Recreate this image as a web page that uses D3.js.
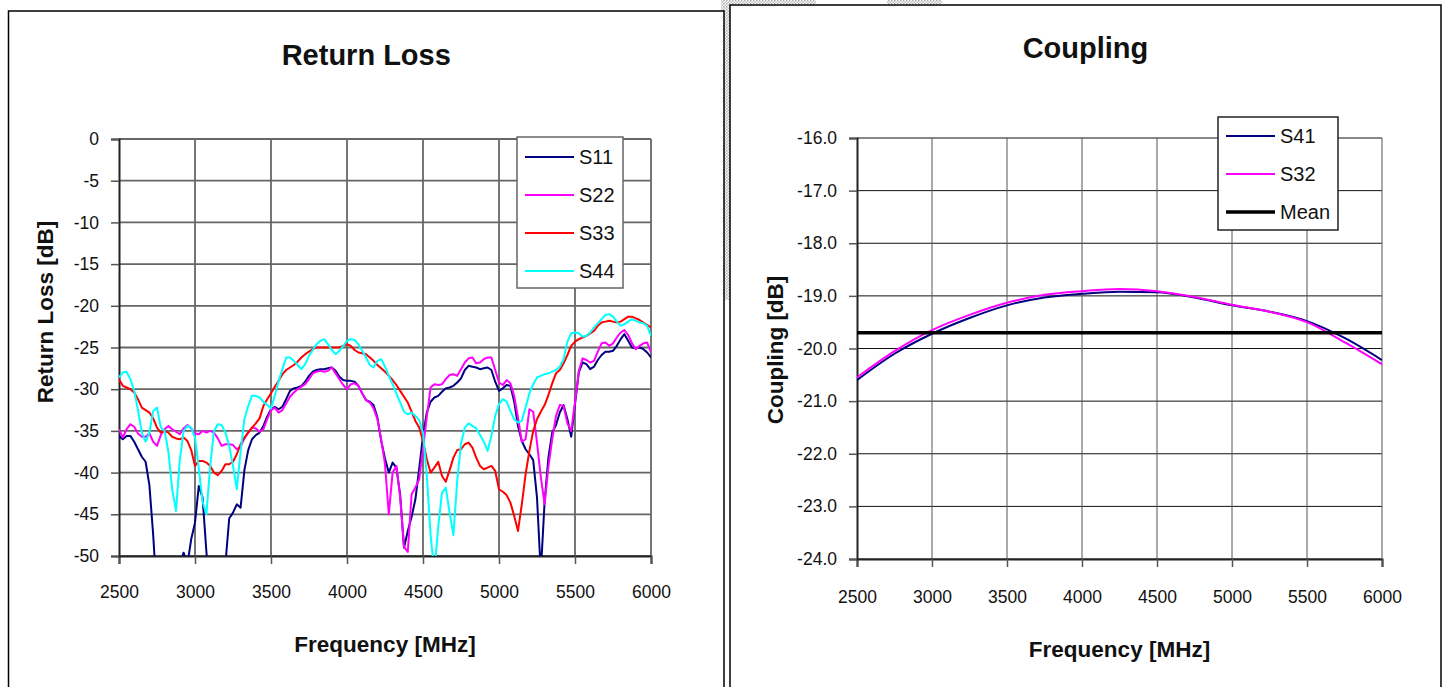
<!DOCTYPE html>
<html>
<head>
<meta charset="utf-8">
<script src="https://cdn.jsdelivr.net/npm/d3@7"></script>
<style>
  body { margin: 0; background: #fff; }
  text { font-family: "Liberation Sans", Arial, sans-serif; fill: #111; }
</style>
</head>
<body>
<div id="root"></div>
<script>
const width = 1446
const height = 687

// ---- Return loss (every 25 MHz from 2500 to 6000) ----
const rlFreq = d3.range(2500, 6001, 25)
const s11 = [-35.6,-36.0,-35.6,-35.6,-36.3,-37.2,-38.1,-38.7,-41.5,-47.5,-55,-55,-55,-55,-55,-55,-51,-49.6,-51,-48,
  -46.0,-41.6,-43.0,-49.5,-55,-55,-55,-55,-51,-45.5,-44.8,-43.8,-44.2,-39.7,-37.3,-36.0,-35.5,-35.2,-34.4,-33.3,
  -32.4,-32.1,-32.4,-32.1,-31.2,-30.2,-29.9,-29.8,-29.6,-29.1,-28.4,-27.9,-27.7,-27.6,-27.6,-27.5,-27.4,-27.8,-28.5,-28.9,
  -29.0,-29.0,-29.1,-29.6,-30.5,-31.3,-31.5,-31.9,-33.4,-36.2,-38.3,-40.0,-38.8,-39.4,-42.7,-49.0,-47.0,-45.3,-43.2,-39.5,
  -35.6,-32.8,-31.5,-31.0,-30.8,-30.3,-29.9,-29.8,-29.6,-29.2,-28.7,-27.7,-27.2,-27.3,-27.4,-27.6,-27.5,-27.4,-27.7,-29.1,
  -30.2,-29.9,-29.5,-29.6,-31.5,-34.4,-36.2,-37.2,-37.8,-38.5,-43.0,-52,-43.5,-38.2,-35.2,-34.3,-32.8,-31.9,-33.6,-35.7,
  -31.8,-28.0,-26.8,-27.0,-27.6,-27.3,-26.5,-25.9,-25.5,-25.5,-25.4,-24.8,-24.0,-23.4,-24.2,-25.0,-25.1,-25.0,-25.2,-25.6,
  -26.2]
const s22 = [-34.8,-35.8,-34.8,-34.2,-34.5,-35.3,-35.7,-35.7,-35.3,-36.3,-36.8,-35.5,-34.8,-34.4,-34.8,-35.1,-35.4,-34.7,-34.3,-34.7,
  -35.3,-35.4,-35.0,-35.2,-35.0,-35.2,-35.9,-36.8,-36.6,-36.6,-36.7,-37.2,-36.9,-35.9,-35.2,-34.6,-34.7,-35.1,-34.8,-33.6,
  -32.5,-32.2,-32.8,-32.5,-31.7,-30.9,-30.4,-30.0,-29.7,-29.4,-28.8,-28.1,-27.9,-27.8,-27.9,-27.8,-27.4,-28.1,-28.8,-29.5,
  -30.0,-29.4,-29.3,-29.6,-30.5,-31.3,-31.6,-32.3,-33.6,-36.0,-39.0,-45.0,-40.0,-39.2,-43.0,-48.9,-49.5,-42.6,-41.8,-40.8,
  -37.2,-33.3,-29.8,-29.4,-29.5,-29.4,-28.8,-28.3,-28.2,-28.4,-27.6,-26.8,-26.3,-26.2,-26.9,-26.8,-26.4,-26.2,-26.2,-27.7,
  -29.2,-29.5,-28.9,-29.3,-30.8,-33.4,-36.3,-36.0,-32.4,-32.7,-36.4,-40.5,-43.8,-39.3,-36.0,-33.2,-31.9,-32.0,-34.1,-35.0,
  -31.6,-27.8,-26.3,-26.5,-26.8,-26.6,-25.5,-24.5,-24.4,-24.8,-24.5,-23.8,-23.2,-22.9,-23.5,-24.5,-25.2,-24.8,-24.5,-24.4,
  -25.6]
const s33 = [-28.8,-29.6,-29.8,-30.0,-30.4,-31.2,-32.2,-32.5,-32.8,-33.5,-34.6,-35.2,-35.0,-35.2,-35.7,-35.9,-36.0,-35.8,-36.2,-37.3,
  -39.2,-38.6,-38.6,-38.8,-39.2,-40.0,-40.3,-39.8,-39.0,-39.0,-38.7,-37.8,-36.6,-35.8,-35.2,-34.6,-34.1,-33.5,-32.0,-31.2,
  -30.5,-29.7,-29.0,-28.2,-27.7,-27.4,-27.1,-26.7,-26.2,-25.8,-25.5,-25.2,-25.0,-25.0,-25.0,-25.0,-25.0,-25.0,-25.0,-24.8,
  -24.6,-24.8,-25.3,-25.6,-25.7,-25.8,-26.2,-26.6,-27.1,-27.5,-27.9,-28.4,-28.9,-29.5,-30.2,-30.9,-31.6,-32.7,-33.8,-34.6,
  -36.2,-38.4,-40.0,-39.4,-38.7,-40.4,-41.1,-39.7,-38.2,-37.3,-37.2,-36.6,-36.4,-37.0,-38.2,-39.2,-39.6,-39.4,-39.2,-39.8,
  -42.0,-42.3,-42.7,-43.6,-45.2,-47.0,-43.8,-40.2,-37.4,-35.0,-33.6,-32.7,-31.9,-30.7,-29.3,-28.1,-27.7,-26.9,-25.9,-24.8,
  -24.3,-24.0,-23.8,-23.6,-23.3,-23.0,-22.4,-22.0,-21.9,-21.8,-21.9,-22.0,-21.9,-21.6,-21.3,-21.3,-21.5,-21.7,-22.0,-22.3,
  -22.6]
const s44 = [-28.6,-28.0,-27.9,-28.8,-30.2,-32.5,-35.2,-36.3,-35.2,-32.6,-32.2,-34.6,-35.0,-37.5,-42.0,-44.6,-38.5,-35.0,-34.4,-34.6,
  -35.8,-39.5,-43.5,-45.0,-39.2,-35.0,-34.2,-34.3,-35.2,-36.8,-39.2,-42.0,-37.5,-33.6,-32.0,-30.8,-30.8,-31.0,-31.5,-31.9,
  -32.3,-30.8,-29.0,-27.6,-26.2,-26.2,-26.6,-27.1,-27.6,-27.0,-26.0,-25.3,-24.6,-24.2,-24.0,-24.6,-25.3,-25.8,-25.4,-24.8,
  -24.2,-24.0,-24.1,-24.6,-25.4,-26.2,-27.1,-27.4,-26.6,-26.4,-27.3,-28.4,-29.4,-30.5,-31.6,-32.7,-33.0,-32.8,-33.2,-33.7,
  -35.2,-40.3,-47.5,-52,-46.5,-42.4,-41.8,-44.8,-47.5,-41.0,-36.5,-34.6,-34.1,-34.4,-34.7,-35.5,-36.3,-37.4,-35.6,-33.2,
  -31.8,-31.2,-31.5,-32.6,-33.6,-34.0,-33.8,-32.2,-30.5,-29.4,-28.6,-28.4,-28.2,-28.1,-27.9,-27.7,-27.3,-26.4,-24.3,-23.3,
  -23.2,-23.3,-23.7,-23.6,-23.2,-22.6,-22.1,-21.6,-21.1,-21.0,-21.3,-21.9,-22.4,-22.2,-21.9,-21.6,-21.8,-22.0,-22.1,-22.4,
  -23.6]
const rlNames = ['S11', 'S22', 'S33', 'S44']
const rlColors = ['#000080', '#ff00ff', '#ff0000', '#00ffff']
const rlTicks = [0, -5, -10, -15, -20, -25, -30, -35, -40, -45, -50]

// ---- Coupling (every 250 MHz) ----
const cpFreq = [2500, 2750, 3000, 3250, 3500, 3750, 4000, 4250, 4500, 4750, 5000, 5250, 5500, 5750, 6000]
const s41 = [-20.60, -20.10, -19.72, -19.42, -19.18, -19.03, -18.96, -18.92, -18.93, -19.03, -19.18, -19.30, -19.48, -19.80, -20.22]
const s32 = [-20.55, -20.05, -19.65, -19.36, -19.13, -18.98, -18.91, -18.87, -18.91, -19.02, -19.17, -19.30, -19.50, -19.88, -20.30]
const cpMean = -19.70
const cpNames = ['S41', 'S32', 'Mean']
const cpColors = ['#000080', '#ff00ff', '#000000']
const cpTicks = [-16, -17, -18, -19, -20, -21, -22, -23, -24]

const freqTicks = [2500, 3000, 3500, 4000, 4500, 5000, 5500, 6000]

const svg = d3.select('#root').append('svg')
  .attr('width', width)
  .attr('height', height)

// gray scan texture between the two panels
const pat = svg.append('defs').append('pattern')
  .attr('id', 'hatch').attr('width', 3).attr('height', 3)
  .attr('patternUnits', 'userSpaceOnUse')
pat.append('rect').attr('width', 3).attr('height', 3).attr('fill', '#fff')
pat.append('rect').attr('width', 1.5).attr('height', 1.5).attr('fill', '#aaa')
pat.append('rect').attr('x', 1.5).attr('y', 1.5).attr('width', 1.5).attr('height', 1.5).attr('fill', '#bbb')
svg.append('rect').attr('x', 721).attr('y', 0).attr('width', 13).attr('height', 300).attr('fill', 'url(#hatch)')
svg.append('rect').attr('x', 721).attr('y', 0).attr('width', 95).attr('height', 4).attr('fill', 'url(#hatch)')
svg.append('rect').attr('x', 887).attr('y', 0).attr('width', 55).attr('height', 4).attr('fill', 'url(#hatch)')

function drawChart (o) {
  const g = svg.append('g')

  g.append('rect')
    .attr('x', o.frame[0]).attr('y', o.frame[1])
    .attr('width', o.frame[2]).attr('height', o.frame[3])
    .attr('fill', '#fff').attr('stroke', '#000').attr('stroke-width', 1.5)

  const x = d3.scaleLinear().domain([2500, 6000]).range([o.plot[0], o.plot[1]])
  const y = d3.scaleLinear().domain(o.yDomain).range([o.plot[2], o.plot[3]])

  // grid
  g.append('g').selectAll('line').data(o.yTicks).join('line')
    .attr('x1', o.plot[0]).attr('x2', o.plot[1])
    .attr('y1', d => y(d)).attr('y2', d => y(d))
    .attr('stroke', o.gridH).attr('stroke-width', o.gridW)
  g.append('g').selectAll('line').data(freqTicks.slice(1)).join('line')
    .attr('x1', d => x(d)).attr('x2', d => x(d))
    .attr('y1', o.plot[2]).attr('y2', o.plot[3])
    .attr('stroke', o.gridV).attr('stroke-width', o.gridW)

  // axes (plain hyphen minus, like the original)
  const xAxis = g.append('g')
    .attr('transform', `translate(0,${o.plot[3]})`)
    .call(d3.axisBottom(x).tickValues(freqTicks).tickSize(8).tickPadding(o.xPad).tickFormat(d => String(d)))
  const yAxis = g.append('g')
    .attr('transform', `translate(${o.plot[0]},0)`)
    .call(d3.axisLeft(y).tickValues(o.yTicks).tickSize(8).tickPadding(12).tickFormat(o.yFormat))
  for (const ax of [xAxis, yAxis]) {
    ax.select('.domain').attr('stroke', '#222').attr('stroke-width', 2)
    ax.selectAll('.tick line').attr('stroke', '#555').attr('stroke-width', 1.5)
    ax.selectAll('.tick text').attr('font-size', 17.5).attr('fill', '#111')
  }

  // series
  const clipId = 'clip' + o.id
  g.append('clipPath').attr('id', clipId).append('rect')
    .attr('x', o.plot[0]).attr('y', o.plot[2] - 2)
    .attr('width', o.plot[1] - o.plot[0]).attr('height', o.plot[3] - o.plot[2] + 2)
  const lines = g.append('g').attr('clip-path', `url(#${clipId})`)
  const line = d3.line().x(d => x(d[0])).y(d => y(d[1])).curve(o.curve)
  o.series.forEach((s, i) => {
    lines.append('path')
      .attr('d', line(o.freq.map((f, k) => [f, s[k]])))
      .attr('fill', 'none').attr('stroke', o.colors[i]).attr('stroke-width', 2)
      .attr('stroke-linejoin', 'round')
  })
  if (o.mean !== undefined) {
    lines.append('line')
      .attr('x1', o.plot[0]).attr('x2', o.plot[1])
      .attr('y1', y(o.mean)).attr('y2', y(o.mean))
      .attr('stroke', '#000').attr('stroke-width', 3.5)
  }

  // titles
  g.append('text')
    .attr('x', o.frame[0] + o.frame[2] / 2).attr('y', o.titleY)
    .attr('text-anchor', 'middle').attr('font-size', 29).attr('font-weight', 'bold')
    .text(o.title)
  g.append('text')
    .attr('x', (o.plot[0] + o.plot[1]) / 2).attr('y', o.xTitleY)
    .attr('text-anchor', 'middle').attr('font-size', 22.5).attr('font-weight', 'bold')
    .text('Frequency [MHz]')
  g.append('text')
    .attr('transform', `translate(${o.yTitle[0]},${o.yTitle[1]}) rotate(-90)`)
    .attr('text-anchor', 'middle').attr('font-size', 22.5).attr('font-weight', 'bold')
    .text(o.yLabel)

  // legend
  const L = o.legend
  const leg = g.append('g')
  leg.append('rect')
    .attr('x', L.x).attr('y', L.y).attr('width', L.w).attr('height', L.h)
    .attr('fill', '#fff').attr('stroke', L.stroke).attr('stroke-width', 1.5)
  o.names.forEach((n, i) => {
    const cy = L.y + L.first + i * L.step
    leg.append('line')
      .attr('x1', L.x + 8).attr('x2', L.x + 57).attr('y1', cy).attr('y2', cy)
      .attr('stroke', o.colors[i]).attr('stroke-width', n === 'Mean' ? 3.5 : 2)
    leg.append('text')
      .attr('x', L.x + 62).attr('y', cy + 7)
      .attr('font-size', 20).text(n)
  })
}

drawChart({
  id: 'rl',
  frame: [8.5, 11, 715.5, 700],
  plot: [119, 651, 139, 556],
  yDomain: [0, -50],
  yTicks: rlTicks,
  yFormat: d => String(d),
  gridH: '#666', gridV: '#666', gridW: 1.8,
  freq: rlFreq,
  series: [s11, s22, s33, s44],
  colors: rlColors,
  names: rlNames,
  curve: d3.curveLinear,
  title: 'Return Loss', titleY: 65,
  xTitleY: 652, xPad: 22,
  yLabel: 'Return Loss [dB]', yTitle: [53, 312],
  legend: { x: 517, y: 137, w: 106, h: 151, first: 20, step: 38, stroke: '#666' }
})

drawChart({
  id: 'cp',
  frame: [730, 5, 711, 700],
  plot: [857, 1382, 138, 559],
  yDomain: [-16, -24],
  yTicks: cpTicks,
  yFormat: d => d.toFixed(1),
  gridH: '#111', gridV: '#555', gridW: 1,
  freq: cpFreq,
  series: [s41, s32],
  mean: cpMean,
  colors: cpColors,
  names: cpNames,
  curve: d3.curveMonotoneX,
  title: 'Coupling', titleY: 58,
  xTitleY: 657, xPad: 24,
  yLabel: 'Coupling [dB]', yTitle: [783, 350],
  legend: { x: 1218, y: 117, w: 120, h: 113, first: 19, step: 38, stroke: '#222' }
})
</script>
</body>
</html>
